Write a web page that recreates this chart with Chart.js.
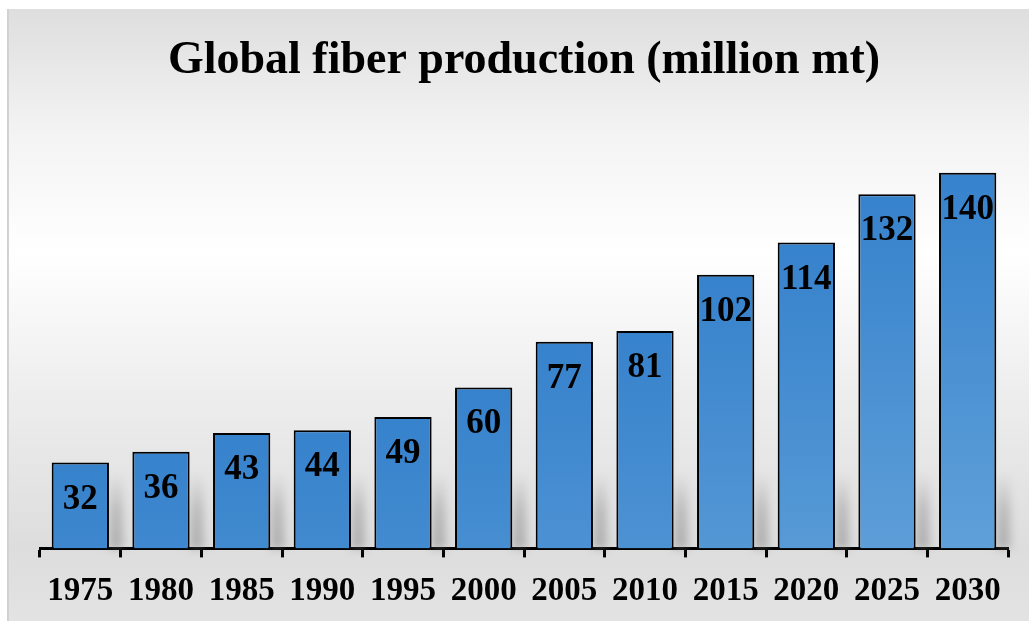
<!DOCTYPE html>
<html>
<head>
<meta charset="utf-8">
<script src="https://cdn.jsdelivr.net/npm/chart.js@4.4.1/dist/chart.umd.min.js"></script>
<style>
  html, body { margin: 0; padding: 0; background: #ffffff; }
  #wrap { width: 1029px; height: 625px; }
</style>
</head>
<body>
<div id="wrap"><canvas id="chart" width="1029" height="625"></canvas></div>
<script>
// chart data
const years = ["1975", "1980", "1985", "1990", "1995", "2000", "2005", "2010", "2015", "2020", "2025", "2030"];
const production = [32, 36, 43, 44, 49, 60, 77, 81, 102, 114, 132, 140];
const chartTitle = "Global fiber production (million mt)";

const serif = "'Liberation Serif', 'Times New Roman', serif";

function lerpColor(a, b, t) {
    t = Math.max(0, Math.min(1, t));
    var r = Math.round(a[0] + (b[0] - a[0]) * t);
    var g = Math.round(a[1] + (b[1] - a[1]) * t);
    var bl = Math.round(a[2] + (b[2] - a[2]) * t);
    return "rgb(" + r + "," + g + "," + bl + ")";
}

// panel background behind everything
const panelBackground = {
    id: "panelBackground",
    beforeDraw: function (chart) {
        let ctx = chart.ctx;
        let top = 9, bottom = 621, left = 7, right = chart.width;
        let grad = ctx.createLinearGradient(0, top, 0, bottom);
        grad.addColorStop(0.0, "#dedede");
        grad.addColorStop(0.2, "#f3f3f3");
        grad.addColorStop(0.4, "#ffffff");
        grad.addColorStop(0.62, "#eeeeee");
        grad.addColorStop(0.88, "#dddddd");
        grad.addColorStop(1.0, "#e3e3e3");
        ctx.save();
        ctx.fillStyle = grad;
        ctx.fillRect(left, top, right - left, bottom - top);
        ctx.fillStyle = "#d2d2d2";
        ctx.fillRect(left, top, 2, bottom - top);
        ctx.restore();
    }
};

// soft gray shadow at the right foot of each bar
const barShadows = {
    id: "barShadows",
    beforeDatasetsDraw: function (chart) {
        let ctx = chart.ctx;
        let meta = chart.getDatasetMeta(0);
        let base = chart.scales.y.getPixelForValue(0);
        ctx.save();
        ctx.filter = "blur(4px)";
        meta.data.forEach(function (bar) {
            let right = bar.x + bar.width / 2;
            let top = Math.max(bar.y + 10, base - 75);
            let g = ctx.createLinearGradient(0, top, 0, base);
            g.addColorStop(0, "rgba(120,120,120,0)");
            g.addColorStop(0.5, "rgba(120,120,120,0.35)");
            g.addColorStop(1, "rgba(120,120,120,0.45)");
            ctx.fillStyle = g;
            ctx.fillRect(right, top, 14, base - top);
        });
        ctx.restore();
    }
};

// value labels inside the top of each bar
const valueLabels = {
    id: "valueLabels",
    afterDatasetsDraw: function (chart) {
        let ctx = chart.ctx;
        let meta = chart.getDatasetMeta(0);
        ctx.save();
        ctx.font = "bold 35px " + serif;
        ctx.fillStyle = "#000000";
        ctx.textAlign = "center";
        ctx.textBaseline = "middle";
        meta.data.forEach(function (bar, i) {
            ctx.fillText(String(production[i]), bar.x, bar.y + 37);
        });
        ctx.restore();
    }
};

new Chart(document.getElementById("chart"), {
    type: "bar",
    data: {
        labels: years,
        datasets: [{
            data: production,
            backgroundColor: function (context) {
                let chart = context.chart;
                let area = chart.chartArea;
                if (!area || !chart.scales.y) return "#3f88cf";
                let y = chart.scales.y;
                let top = y.getPixelForValue(context.raw);
                let base = y.getPixelForValue(0);
                let g = chart.ctx.createLinearGradient(0, top, 0, base);
                let t = (base - top) / 380;
                g.addColorStop(0, "rgb(54,130,204)");
                g.addColorStop(1, lerpColor([52, 128, 203], [96, 160, 217], t));
                return g;
            },
            borderColor: "#000000",
            borderWidth: 2,
            borderSkipped: "bottom",
            barPercentage: 0.71,
            categoryPercentage: 1.0
        }]
    },
    options: {
        responsive: false,
        animation: false,
        layout: {
            padding: { top: 0, bottom: 0, left: 40, right: 21 }
        },
        scales: {
            x: {
                offset: true,
                grid: {
                    display: true,
                    offset: true,
                    drawOnChartArea: false,
                    drawTicks: true,
                    tickLength: 9,
                    tickWidth: 3,
                    tickColor: "#000000"
                },
                border: { display: true, color: "#000000", width: 3 },
                ticks: {
                    color: "#000000",
                    padding: 14,
                    maxRotation: 0,
                    autoSkip: false,
                    font: { family: serif, size: 33, weight: "bold" }
                }
            },
            y: {
                display: false,
                min: 0,
                max: 160
            }
        },
        plugins: {
            legend: { display: false },
            tooltip: { enabled: false },
            title: {
                display: true,
                text: chartTitle,
                color: "#000000",
                font: { family: serif, size: 46, weight: "bold", lineHeight: 1.2 },
                padding: { top: 34, bottom: 30 }
            }
        }
    },
    plugins: [panelBackground, barShadows, valueLabels]
});
</script>
</body>
</html>
